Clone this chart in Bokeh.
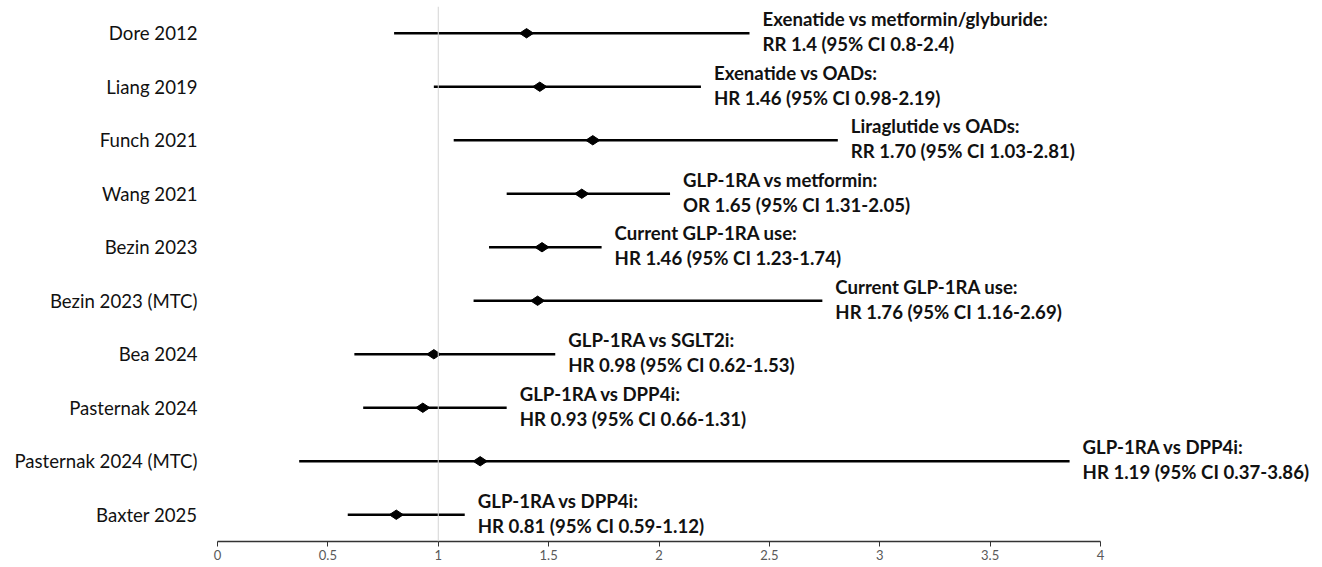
from bokeh.plotting import figure
from bokeh.models import Range1d, FixedTicker, Span, ColumnDataSource
from bokeh.core.properties import value
from bokeh.embed import file_html
from bokeh.resources import INLINE

studies = ["Dore 2012", "Liang 2019", "Funch 2021", "Wang 2021", "Bezin 2023",
           "Bezin 2023 (MTC)", "Bea 2024", "Pasternak 2024", "Pasternak 2024 (MTC)", "Baxter 2025"]
est = [1.40, 1.46, 1.70, 1.65, 1.47, 1.45, 0.98, 0.93, 1.19, 0.81]
lo = [0.80, 0.98, 1.07, 1.31, 1.23, 1.16, 0.62, 0.66, 0.37, 0.59]
hi = [2.41, 2.19, 2.81, 2.05, 1.74, 2.74, 1.53, 1.31, 3.86, 1.12]
comparison = ["Exenatide vs metformin/glyburide:", "Exenatide vs OADs:", "Liraglutide vs OADs:",
              "GLP-1RA vs metformin:", "Current GLP-1RA use:", "Current GLP-1RA use:",
              "GLP-1RA vs SGLT2i:", "GLP-1RA vs DPP4i:", "GLP-1RA vs DPP4i:", "GLP-1RA vs DPP4i:"]
result = ["RR 1.4 (95% CI 0.8-2.4)", "HR 1.46 (95% CI 0.98-2.19)", "RR 1.70 (95% CI 1.03-2.81)",
          "OR 1.65 (95% CI 1.31-2.05)", "HR 1.46 (95% CI 1.23-1.74)", "HR 1.76 (95% CI 1.16-2.69)",
          "HR 0.98 (95% CI 0.62-1.53)", "HR 0.93 (95% CI 0.66-1.31)", "HR 1.19 (95% CI 0.37-3.86)",
          "HR 0.81 (95% CI 0.59-1.12)"]
x_ticks = [0, 0.5, 1, 1.5, 2, 2.5, 3, 3.5, 4]

rows = [i + 0.5 for i in range(len(studies))]
src = ColumnDataSource(dict(y=rows, est=est, lo=lo, hi=hi, c=comparison, r=result))

FONT = "Lato"
W, H = 1318, 566
left_border = 217
ppu = 220.75
x_end = (W - left_border) / ppu

p = figure(width=W, height=H, output_backend="svg", toolbar_location=None,
           x_range=Range1d(0, x_end), y_range=Range1d(10, 0),
           min_border_left=left_border, min_border_right=0, min_border_top=6, min_border_bottom=25)
p.outline_line_color = None
p.xgrid.visible = False
p.ygrid.visible = False
p.background_fill_color = "white"
p.border_fill_color = "white"

p.add_layout(Span(location=1, dimension="height", line_color="#d4d4d4", line_width=1))

p.segment(x0="lo", x1="hi", y0="y", y1="y", source=src, line_color="black", line_width=2.3)
p.scatter(x="est", y="y", source=src, marker="diamond", angle=1.5708, size=14,
          fill_color="black", line_color="black")

p.text(x="hi", y="y", text="c", source=src, x_offset=13, y_offset=-14,
       text_font=value(FONT), text_font_style="bold", text_font_size="18.6px",
       text_baseline="middle", text_align="left", text_color="#111111")
p.text(x="hi", y="y", text="r", source=src, x_offset=13, y_offset=11,
       text_font=value(FONT), text_font_style="bold", text_font_size="18.6px",
       text_baseline="middle", text_align="left", text_color="#111111")

xa = p.xaxis[0]
xa.ticker = FixedTicker(ticks=x_ticks)
xa.bounds = (0, 4)
xa.axis_line_color = "#333333"
xa.axis_line_width = 1.3
xa.major_tick_line_color = "#333333"
xa.major_tick_out = 5
xa.major_tick_in = 0
xa.minor_tick_line_color = None
xa.major_label_text_font = FONT
xa.major_label_text_font_size = "13px"
xa.major_label_text_color = "#595959"
xa.major_label_standoff = 3
xa.major_label_overrides = {0: "0", 1: "1", 2: "2", 3: "3", 4: "4"}

ya = p.yaxis[0]
ya.ticker = FixedTicker(ticks=rows)
ya.major_label_overrides = {r: s for r, s in zip(rows, studies)}
ya.axis_line_color = None
ya.major_tick_line_color = None
ya.minor_tick_line_color = None
ya.major_tick_out = 0
ya.major_tick_in = 0
ya.major_label_standoff = 20
ya.major_label_text_font = FONT
ya.major_label_text_font_size = "18.6px"
ya.major_label_text_color = "#111111"

open("out.html", "w").write(file_html(p, INLINE))
